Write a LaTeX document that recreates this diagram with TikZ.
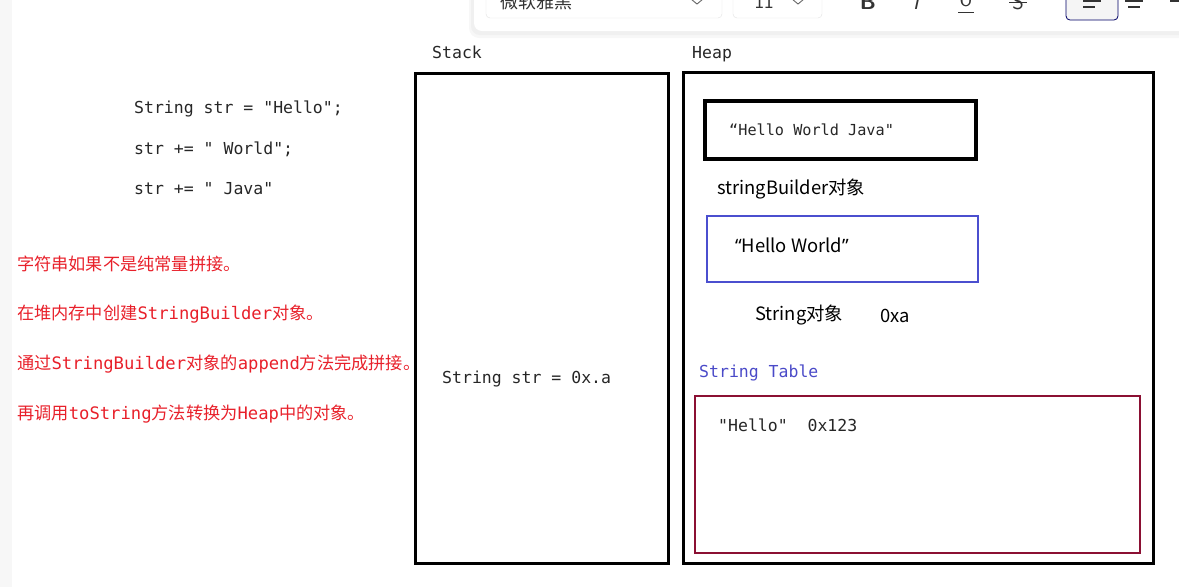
\documentclass[tikz,border=0pt]{standalone}
\usepackage{fontspec}
\setmainfont{Noto Sans CJK SC}
\setmonofont{DejaVu Sans Mono}
\newfontfamily\cjk{Noto Sans CJK SC}
\newfontfamily\latin{Noto Sans}
\usepackage{xcolor}
\usetikzlibrary{positioning}

\definecolor{notered}{HTML}{E8202A}
\definecolor{sbblue}{HTML}{4B4FCF}
\definecolor{tblblue}{HTML}{4A4AC8}
\definecolor{tblred}{HTML}{8B1033}
\definecolor{barline}{HTML}{E2E2E2}

\begin{document}
\begin{tikzpicture}[
  x=1pt, y=-1pt,
  code/.style={anchor=base west, inner sep=0pt, text=black!85, font=\fontsize{16.5}{20}\selectfont\ttfamily},
  note/.style={anchor=base west, inner sep=0pt, text=notered, font=\fontsize{17.2}{20}\selectfont\cjk},
  plain/.style={anchor=base west, inner sep=0pt, font=\fontsize{18.4}{20}\selectfont\cjk},
  area/.style={draw=black, line width=3pt},
  obj/.style={line width=2.8pt},
  tool/.style={anchor=base, inner sep=0pt, text=black!80, font=\fontsize{22}{24}\selectfont\sffamily},
]
\useasboundingbox (0,0) rectangle (1179,587);
\fill[black!3] (0,0) rectangle (12,587);

% toolbar (cut off at the top)
\begin{scope}
  \clip (0,0) rectangle (1179,587);
  \fill[black!3, rounded corners=10pt] (469,-20) rectangle (1192,38);
  \fill[black!6, rounded corners=9pt] (471,-20) rectangle (1190,35);
  \fill[white, rounded corners=8pt] (474,-20) rectangle (1190,31);
  \draw[barline, fill=white, rounded corners=4pt] (486,-20) rectangle (722,18);
  \draw[barline, fill=white, rounded corners=4pt] (733,-20) rectangle (822,18);
  \node[anchor=base west, inner sep=0pt, text=black!80, font=\fontsize{18}{20}\selectfont\cjk] (font) at (500,8) {微软雅黑};
  \node[tool, font=\fontsize{17}{20}\selectfont\cjk] (size) at (764,8) {11};
  \draw[black!60, line width=0.9pt] (691,-1) -- (697,4) -- (703,-1);
  \draw[black!60, line width=0.9pt] (792,-1) -- (798,4) -- (804,-1);
  \node[tool, font=\fontsize{22}{24}\selectfont\sffamily\bfseries] (bold) at (868,9) {B};
  \node[tool, font=\fontsize{22}{24}\selectfont\sffamily\itshape] (ital) at (916,9) {I};
  \node[tool] (under) at (966,6) {U};
  \draw[black!80, line width=1pt] (958,12) -- (974,12);
  \node[tool] (strike) at (1018,9) {S};
  \draw[black!80, line width=1pt] (1009,2) -- (1027,2);
  \draw[black!60!blue, fill=black!4, line width=0.8pt, rounded corners=4pt] (1066,-20) rectangle (1118,20);
  \draw[black!80, line width=1.2pt] (1083,1) -- (1101,1) (1083,7) -- (1095,7);
  \draw[black!80, line width=1.2pt] (1125,1) -- (1143,1) (1128,7) -- (1140,7);
  \draw[black!80, line width=1.2pt] (1170,1) -- (1179,1);
\end{scope}

% source code
\node[code] (line1) at (134,113) {String str = "Hello";};
\node[code] (line2) at (134,154) {str += " World";};
\node[code] (line3) at (134,194) {str += " Java"};

% notes
\node[note] (note1) at (17,270) {字符串如果不是纯常量拼接。};
\node[note] (note2) at (17,319) {在堆内存中创建{\ttfamily StringBuilder}对象。};
\node[note] (note3) at (17,369) {通过{\ttfamily StringBuilder}对象的{\ttfamily append}方法完成拼接。};
\node[note] (note4) at (17,419) {再调用{\ttfamily toString}方法转换为{\ttfamily Heap}中的对象。};

% stack
\node[code] (stacklbl) at (432,58) {Stack};
\draw[area] (415,73) rectangle (668,563);
\node[code] (strref) at (442,383) {String str = 0x.a};

% heap
\node[code] (heaplbl) at (692,58) {Heap};
\draw[area] (683,72) rectangle (1153,563);
\draw[obj, draw=black, line width=3.2pt] (705,101) rectangle (976,159);
\node[code, font=\fontsize{15.2}{18}\selectfont\ttfamily] (result) at (729,135) {“Hello World Java"};
\node[plain] (sblbl) at (717,194) {stringBuilder对象};
\draw[obj, draw=sbblue] (707,216) rectangle (978,282);
\node[plain] (sbval) at (735,252) {{\latin“}Hello World{\latin”}};
\node[plain] (strobj) at (755,320) {String对象};
\node[plain] (addr) at (880,322) {0xa};

% string table
\node[code, text=tblblue] (tbllbl) at (699,377) {String Table};
\draw[obj, draw=tblred] (695,396) rectangle (1140,553);
\node[code] (entry) at (718,431) {"Hello"~~0x123};
\end{tikzpicture}
\end{document}
